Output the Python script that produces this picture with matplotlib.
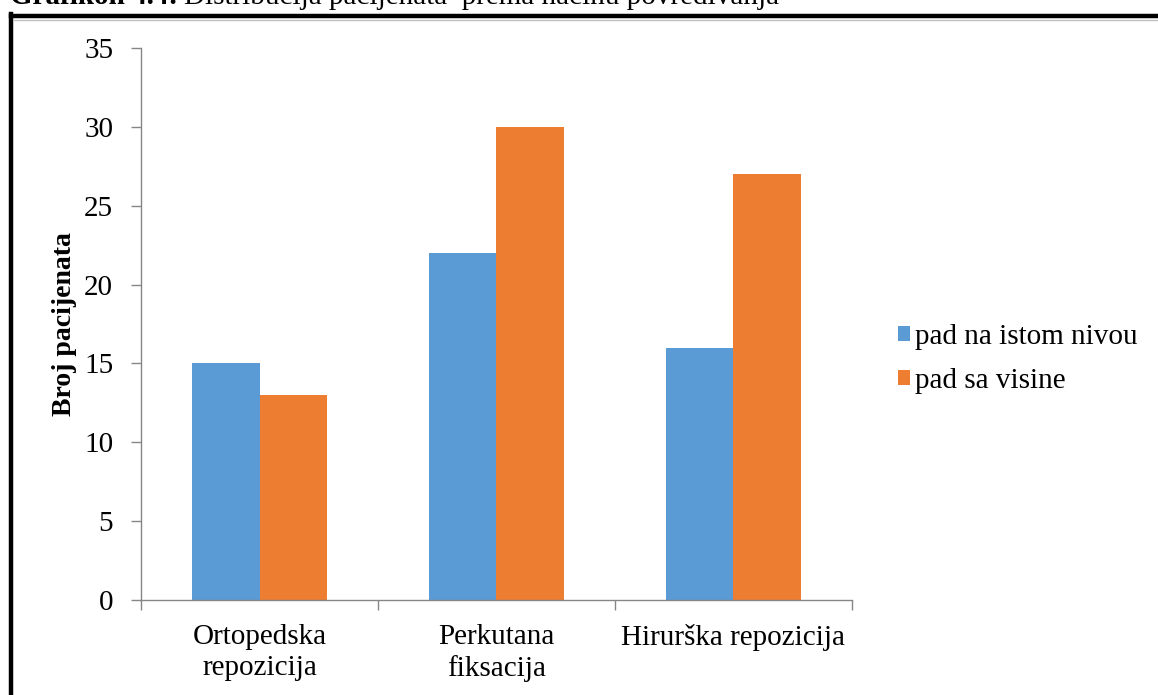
import numpy as np
import matplotlib.pyplot as plt
from matplotlib.lines import Line2D

categories = ["Ortopedska\nrepozicija", "Perkutana\nfiksacija", "Hirurška repozicija"]
series_names = ["pad na istom nivou", "pad sa visine"]
pad_isti_nivo = [15, 22, 16]
pad_visina = [13, 30, 27]
y_ticks = [0, 5, 10, 15, 20, 25, 30, 35]

plt.rcParams['font.family'] = ['Liberation Serif', 'DejaVu Serif']

W, H = 1158, 695
fig = plt.figure(figsize=(W / 100, H / 100), dpi=100)
ax = fig.add_axes([141 / W, 1 - 600 / H, (852 - 141) / W, (600 - 48) / H])

x = np.arange(len(categories))
bw = 0.283
ax.bar(x - bw / 2, pad_isti_nivo, bw, color='#5B9BD5', label=series_names[0])
ax.bar(x + bw / 2, pad_visina, bw, color='#ED7D31', label=series_names[1])

ax.set_xlim(-0.5, len(categories) - 0.5)
ax.set_ylim(0, 35)
ax.set_yticks(y_ticks)
ax.set_yticklabels([str(v) for v in y_ticks], fontsize=21)
ax.set_xticks(x)
ax.set_xticklabels(categories, fontsize=21, linespacing=1.25)
ax.tick_params(axis='x', length=0, pad=17)
ax.set_xticks(np.arange(len(categories) + 1) - 0.5, minor=True)
ax.tick_params(axis='x', which='minor', length=7, color='#868686', width=1)
ax.tick_params(axis='y', length=7, color='#868686', width=1, pad=13)

for s in ['top', 'right']:
    ax.spines[s].set_visible(False)
for s in ['left', 'bottom']:
    ax.spines[s].set_color('#868686')
    ax.spines[s].set_linewidth(1)

ax.set_ylabel("Broj pacijenata", fontsize=20, fontweight='bold')
ax.yaxis.set_label_coords(-0.09, 0.5)

ax.legend(loc='center left', bbox_to_anchor=(1.065, 0.437), frameon=False,
          fontsize=21, handlelength=0.42, handleheight=0.42, handletextpad=0.15,
          labelspacing=0.62, borderaxespad=0, borderpad=0)

# okvir slike
fig.add_artist(Line2D([11 / W, 11 / W], [0, 1 - 14 / H], color='black', lw=3.2,
                      solid_capstyle='projecting'))
fig.add_artist(Line2D([11 / W, 1], [1 - 16 / H, 1 - 16 / H], color='black', lw=3.2,
                      solid_capstyle='projecting'))
fig.add_artist(Line2D([14 / W, 1], [1 - 19.5 / H, 1 - 19.5 / H], color='#c0c0c0', lw=1))

# odsječeni naslov iznad okvira
t1 = fig.text(10 / W, 1 - 4 / H, "Grafikon 4.4:", fontsize=21, fontweight='bold', va='baseline')
fig.canvas.draw()
bb = t1.get_window_extent(fig.canvas.get_renderer())
fig.text((bb.x1 + 6) / W, 1 - 4 / H, "Distribucija pacijenata  prema načinu povređivanja",
         fontsize=21, va='baseline')

fig.savefig("out.png", dpi=100)
